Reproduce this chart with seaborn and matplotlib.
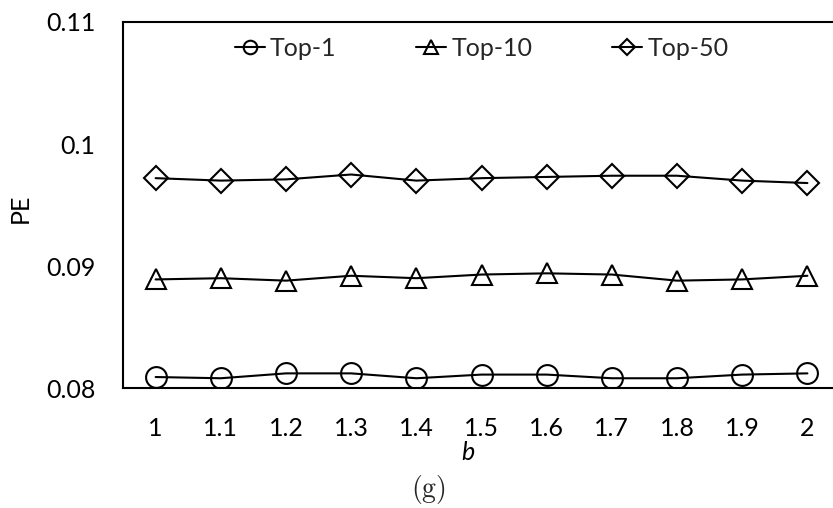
import matplotlib
matplotlib.use("Agg")
import matplotlib.pyplot as plt
import seaborn as sns
import pandas as pd

b_labels = ["1", "1.1", "1.2", "1.3", "1.4", "1.5", "1.6", "1.7", "1.8", "1.9", "2"]
top1 = [0.0809, 0.0808, 0.0812, 0.0812, 0.0808, 0.0811, 0.0811, 0.0808, 0.0808, 0.0811, 0.0812]
top10 = [0.0889, 0.0890, 0.0888, 0.0892, 0.0890, 0.0893, 0.0894, 0.0893, 0.0888, 0.0889, 0.0892]
top50 = [0.0972, 0.0970, 0.0971, 0.0975, 0.0970, 0.0972, 0.0973, 0.0974, 0.0974, 0.0970, 0.0968]
series_names = ["Top-1", "Top-10", "Top-50"]
y_ticks = [0.08, 0.09, 0.1, 0.11]
y_tick_labels = ["0.08", "0.09", "0.1", "0.11"]

sns.set_theme(style="white")
plt.rcParams["font.family"] = ["Lato", "DejaVu Sans"]
plt.rcParams["mathtext.fontset"] = "cm"

fig = plt.figure(figsize=(8.33, 5.08), dpi=100)
ax = fig.add_axes([0.1477, 0.2362, 0.8607, 0.7205])

styles = [("o", 15), ("^", 14.5), ("D", 12)]
for name, vals, (m, ms) in zip(series_names, [top1, top10, top50], styles):
    df = pd.DataFrame({"b": b_labels, "PE": vals})
    sns.lineplot(data=df, x="b", y="PE", ax=ax, sort=False, color="black",
                 linewidth=1.5, marker=m, markersize=ms, markerfacecolor="none",
                 markeredgecolor="black", markeredgewidth=1.5, label=name)

ax.set_xlim(-0.5, 10.5)
ax.set_ylim(0.08, 0.11)
ax.set_yticks(y_ticks)
ax.set_yticklabels(y_tick_labels)
ax.tick_params(axis="both", length=0, labelsize=18, colors="black")
ax.tick_params(axis="y", pad=20)
ax.tick_params(axis="x", pad=21)
for s in ax.spines.values():
    s.set_color("black")
    s.set_linewidth(1.5)

ax.set_xlabel("b", fontsize=18, style="italic", color="black")
ax.xaxis.set_label_coords(0.481, -0.145)
ax.set_ylabel("PE", fontsize=18, color="black")
ax.yaxis.set_label_coords(-0.128, 0.49)

ax.legend(ncol=3, loc="upper center", bbox_to_anchor=(0.5, 1.0), frameon=False,
          fontsize=18, handlelength=1.2, handletextpad=0.2, columnspacing=3.2,
          markerscale=0.65, borderaxespad=0.2)

fig.text(428 / 833, 1 - 490 / 508, r"$\mathrm{(g)}$", fontsize=20, ha="center", va="center")

fig.savefig("out.png", dpi=100)
